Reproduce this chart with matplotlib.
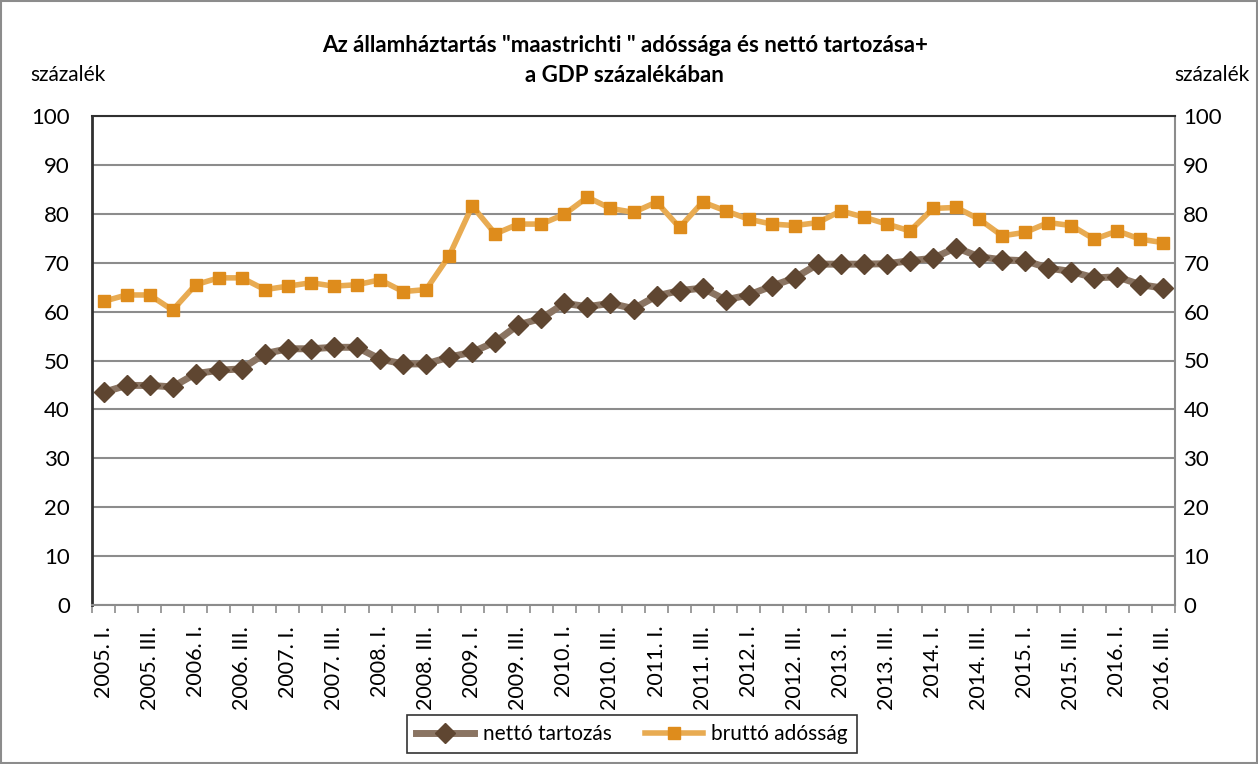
import matplotlib
matplotlib.use("Agg")
import matplotlib.pyplot as plt
from matplotlib.patches import Rectangle
from matplotlib.ticker import FixedLocator, MultipleLocator

plt.rcParams['font.family'] = ['Lato', 'DejaVu Sans']

# quarters 2005 I. .. 2016 III.
roman = ['I.', 'II.', 'III.', 'IV.']
quarters = [f"{y}. {q}" for y in range(2005, 2017) for q in roman][:47]

netto = [43.5, 44.9, 44.9, 44.6, 47.3, 48.0, 48.3, 51.4, 52.4, 52.4,
         52.7, 52.7, 50.3, 49.3, 49.3, 50.7, 51.7, 53.8, 57.3, 58.6,
         61.7, 61.0, 61.7, 60.6, 63.2, 64.3, 64.8, 62.4, 63.4, 65.2,
         66.9, 69.7, 69.7, 69.7, 69.8, 70.4, 70.9, 73.1, 71.2, 70.6,
         70.4, 68.9, 68.2, 66.9, 67.1, 65.5, 64.8]
brutto = [62.1, 63.4, 63.4, 60.3, 65.5, 66.9, 66.9, 64.5, 65.2, 65.9,
          65.2, 65.5, 66.5, 64.1, 64.5, 71.4, 81.6, 75.9, 77.9, 77.9,
          79.9, 83.4, 81.1, 80.3, 82.4, 77.2, 82.4, 80.6, 78.9, 77.9,
          77.6, 78.2, 80.6, 79.3, 77.9, 76.5, 81.1, 81.3, 78.9, 75.5,
          76.2, 78.2, 77.6, 74.8, 76.5, 74.8, 74.1]

fig = plt.figure(figsize=(12.58, 7.64), dpi=100)
ax = fig.add_axes([92 / 1258, 1 - 605 / 764, (1175 - 92) / 1258, (605 - 116) / 764])

x = list(range(len(quarters)))
ax.plot(x, netto, color='#8a7462', lw=5, marker='D', ms=10,
        mfc='#5f4631', mec='#5f4631', label='nettó tartozás', zorder=3)
ax.plot(x, brutto, color='#e8ab52', lw=4, marker='s', ms=9,
        mfc='#de8c1c', mec='#de8c1c', label='bruttó adósság', zorder=3)

ax.set_xlim(-0.5, len(quarters) - 0.5)
ax.set_ylim(0, 100)
ax.yaxis.set_major_locator(MultipleLocator(10))
ax.grid(axis='y', color='#8c8c8c', lw=1.5)
ax.set_axisbelow(True)

ax.set_xticks(x[::2])
ax.set_xticklabels(quarters[::2], rotation=90, fontsize=15.5)
ax.xaxis.set_minor_locator(FixedLocator([i - 0.5 for i in range(len(quarters) + 1)]))
ax.tick_params(axis='x', which='major', length=0, pad=15)
ax.tick_params(axis='x', which='minor', length=6, width=1.2, color='#8c8c8c', direction='out')
ax.tick_params(axis='y', length=0, pad=16, labelsize=16)

ax.spines['top'].set_color('#303030')
ax.spines['top'].set_linewidth(1.5)
ax.spines['left'].set_color('#303030')
ax.spines['left'].set_linewidth(2)
ax.spines['bottom'].set_color('#8c8c8c')
ax.spines['bottom'].set_linewidth(1.5)
ax.spines['right'].set_color('#8c8c8c')
ax.spines['right'].set_linewidth(1.5)

ax2 = ax.twinx()
ax2.set_ylim(0, 100)
ax2.yaxis.set_major_locator(MultipleLocator(10))
ax2.tick_params(axis='y', length=0, pad=6, labelsize=16)
for s in ax2.spines.values():
    s.set_visible(False)

fig.text(0.4965, 1 - 45 / 764, 'Az államháztartás "maastrichti " adóssága és nettó tartozása+',
         ha='center', va='center', fontsize=16, fontweight='bold')
fig.text(0.4965, 1 - 75 / 764, 'a GDP százalékában',
         ha='center', va='center', fontsize=16, fontweight='bold')
fig.text(30 / 1258, 1 - 75 / 764, 'százalék', ha='left', va='center', fontsize=15)
fig.text(1250 / 1258, 1 - 75 / 764, 'százalék', ha='right', va='center', fontsize=15)

leg = fig.legend(loc='center', bbox_to_anchor=(632 / 1258, 1 - 734 / 764), ncol=2,
                 fontsize=15, frameon=True, fancybox=False, edgecolor='black',
                 handlelength=2.8, handletextpad=0.4, columnspacing=1.6, borderpad=0.45)
leg.get_frame().set_linewidth(1.2)

fig.patches.append(Rectangle((0.001, 0.001), 0.998, 0.998, transform=fig.transFigure,
                             fill=False, edgecolor='#8c8c8c', lw=1.5))

fig.savefig('out.png', dpi=100)
